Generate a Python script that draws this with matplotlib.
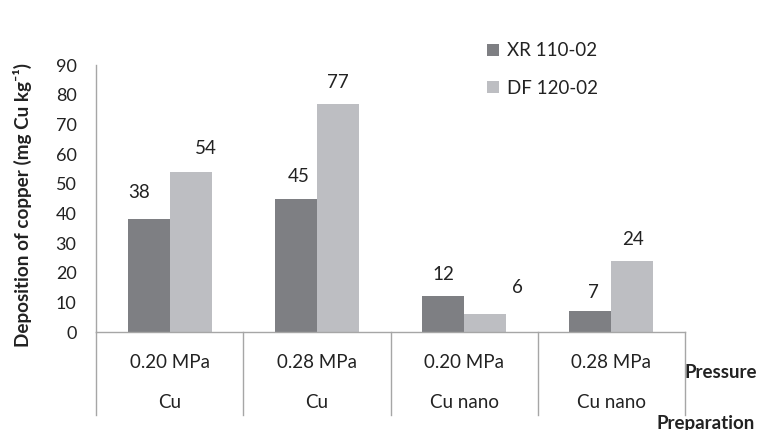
import numpy as np
import matplotlib.pyplot as plt
from matplotlib import transforms

plt.rcParams['font.family'] = ['Lato', 'DejaVu Sans']

# deposition of copper, mg Cu per kg
pressure = ['0.20 MPa', '0.28 MPa', '0.20 MPa', '0.28 MPa']
preparation = ['Cu', 'Cu', 'Cu nano', 'Cu nano']
series = ['XR 110-02', 'DF 120-02']
xr_values = [38, 45, 12, 7]
df_values = [54, 77, 6, 24]

dark = '#7e7f83'
light = '#bdbec2'
text_col = '#222222'
line_col = '#a6a6a6'
fs = 13.5

fig = plt.figure(figsize=(7.63, 4.30), dpi=100)
ax = fig.add_axes([0.1258, 0.2279, 0.772, 0.6209])

x = np.arange(len(pressure))
w = 1 / 3.5
b1 = ax.bar(x - w / 2, xr_values, w, color=dark, label=series[0])
b2 = ax.bar(x + w / 2, df_values, w, color=light, label=series[1])

# value labels, a few nudged sideways/up (offsets in px)
nudge1 = [(-9, 27), (3, 22), (0, 22), (3, 19)]
nudge2 = [(15, 23), (0, 21), (32, 27), (1, 21)]
for bars, vals, nudges in [(b1, xr_values, nudge1), (b2, df_values, nudge2)]:
    for r, v, (dx, dy) in zip(bars, vals, nudges):
        ax.annotate(f'{v:.0f}', (r.get_x() + r.get_width() / 2, r.get_height()),
                    xytext=(dx * 0.72, dy * 0.72), textcoords='offset points',
                    ha='center', va='center', fontsize=fs, color=text_col)

ax.set_xlim(-0.5, len(pressure) - 0.5)
ax.set_ylim(0, 90)
ax.set_yticks(range(0, 91, 10))
ax.tick_params(axis='y', length=0, labelsize=13, labelcolor=text_col, pad=14)
ax.set_xticks([])
for s in ['top', 'right']:
    ax.spines[s].set_visible(False)
for s in ['left', 'bottom']:
    ax.spines[s].set_color(line_col)
    ax.spines[s].set_linewidth(1)

fig.text(22 / 763, 1 - 205 / 430, 'Deposition of copper (mg Cu kg⁻¹)', rotation=90,
         ha='center', va='center', fontsize=13.6, fontweight='bold', color=text_col)

# two-row category table under the axis
trans = transforms.blended_transform_factory(ax.transData, fig.transFigure)
y_top = 1 - 332 / 430
y_bot = 1 - 415 / 430
for xb in np.arange(-0.5, len(pressure)):
    ax.plot([xb, xb], [y_top, y_bot], transform=trans, color=line_col, lw=1, clip_on=False)
for i in x:
    ax.text(i, 1 - 362 / 430, pressure[i], transform=trans, ha='center', va='center',
            fontsize=fs, color=text_col)
    ax.text(i, 1 - 402 / 430, preparation[i], transform=trans, ha='center', va='center',
            fontsize=fs, color=text_col)
fig.text(685 / 763, 1 - 372 / 430, 'Pressure', ha='left', va='center',
         fontsize=13.5, fontweight='bold', color=text_col)
fig.text(657 / 763, 1 - 423 / 430, 'Preparation', ha='left', va='center',
         fontsize=13.5, fontweight='bold', color=text_col)

ax.legend(loc='upper left', bbox_to_anchor=(478 / 763, 1 - 33 / 430),
          bbox_transform=fig.transFigure, frameon=False, fontsize=fs,
          handlelength=0.6, handleheight=0.6, handletextpad=0.45, labelspacing=1.1,
          borderpad=0, labelcolor=text_col)

fig.savefig('out.png', dpi=100)
